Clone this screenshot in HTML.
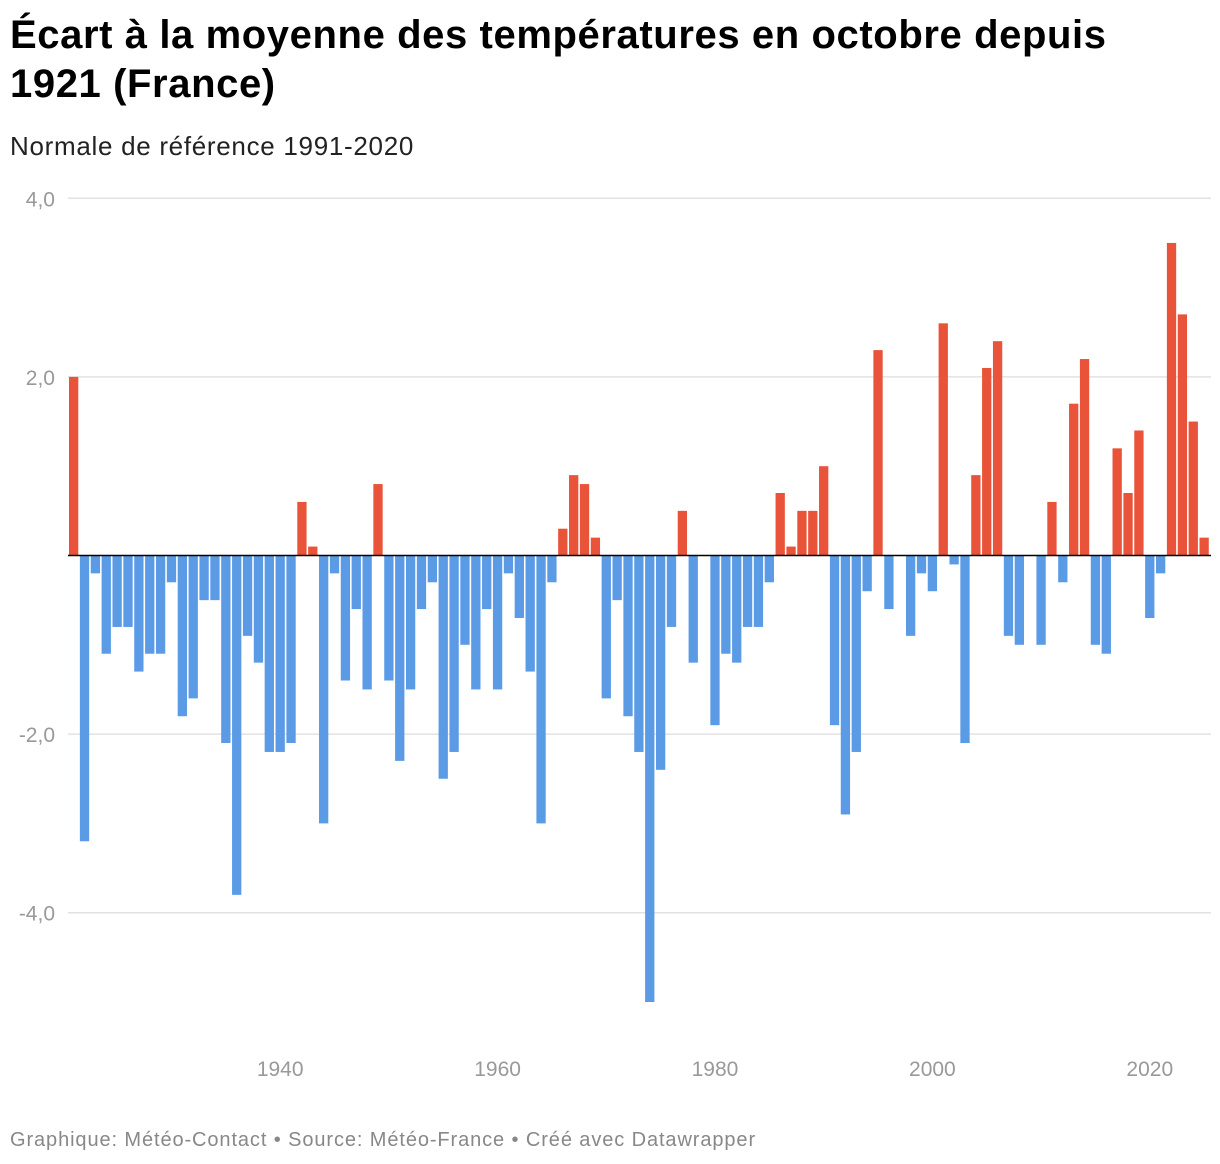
<!DOCTYPE html>
<html><head><meta charset="utf-8">
<style>
body{margin:0;background:#fff;font-family:"Liberation Sans",sans-serif;}
#wrap{position:relative;width:1220px;height:1164px;overflow:hidden;}
h1{position:absolute;left:10px;top:11px;margin:0;font-size:40px;line-height:49px;font-weight:bold;color:#000;width:1120px;letter-spacing:0.6px;}
.sub{position:absolute;left:10px;top:131px;font-size:26px;color:#222;letter-spacing:0.7px;}
.foot{position:absolute;left:10px;top:1129px;font-size:20px;color:#888;letter-spacing:0.9px;}
svg{position:absolute;left:0;top:0;}
</style></head><body>
<div id="wrap">
<h1>Écart à la moyenne des températures en octobre depuis 1921 (France)</h1>
<div class="sub">Normale de référence 1991-2020</div>
<svg id="chart" width="1220" height="1164"></svg>
<div class="foot">Graphique: Météo-Contact • Source: Météo-France • Créé avec Datawrapper</div>
</div>
<script>
const startYear = 1921;
const values = [2.0,-3.2,-0.2,-1.1,-0.8,-0.8,-1.3,-1.1,-1.1,-0.3,
-1.8,-1.6,-0.5,-0.5,-2.1,-3.8,-0.9,-1.2,-2.2,-2.2,
-2.1,0.6,0.1,-3.0,-0.2,-1.4,-0.6,-1.5,0.8,-1.4,
-2.3,-1.5,-0.6,-0.3,-2.5,-2.2,-1.0,-1.5,-0.6,-1.5,
-0.2,-0.7,-1.3,-3.0,-0.3,0.3,0.9,0.8,0.2,-1.6,
-0.5,-1.8,-2.2,-5.0,-2.4,-0.8,0.5,-1.2,0,-1.9,
-1.1,-1.2,-0.8,-0.8,-0.3,0.7,0.1,0.5,0.5,1.0,
-1.9,-2.9,-2.2,-0.4,2.3,-0.6,0,-0.9,-0.2,-0.4,
2.6,-0.1,-2.1,0.9,2.1,2.4,-0.9,-1.0,0,-1.0,
0.6,-0.3,1.7,2.2,-1.0,-1.1,1.2,0.7,1.4,-0.7,
-0.2,3.5,2.7,1.5,0.2];
const yTicks = [4,2,-2,-4];
const yTickLabels = ["4,0","2,0","-2,0","-4,0"];
const xTicks = [1940,1960,1980,2000,2020];

const svg = document.getElementById('chart');
const NS = 'http://www.w3.org/2000/svg';
const step = 10.87, x0 = 69, barW = 9.3;
function xScale(year){return x0 + (year-startYear)*step;}
function yScale(v){return 555.5 - v*89.3;}
function mk(tag, attrs){const e=document.createElementNS(NS,tag);for(const k in attrs)e.setAttribute(k,attrs[k]);svg.appendChild(e);return e;}

yTicks.forEach((t,i)=>{
  const g = mk('line',{x1:68,x2:1211,y1:yScale(t),y2:yScale(t),stroke:'#e2e2e2','stroke-width':1.5});
  
  
  const tx = mk('text',{x:55,y:yScale(t)+8,'text-anchor':'end','font-size':21,fill:'#999','font-family':'Liberation Sans, sans-serif'});
  tx.textContent = yTickLabels[i];
  
  
});
values.forEach((v,i)=>{
  const yr = startYear+i;
  if(v===0) return;
  const y = v>0 ? yScale(v) : yScale(0);
  const h = Math.abs(yScale(v)-yScale(0));
  const r = mk('rect',{x:xScale(yr),y:y,width:barW,height:h,fill:v>0?'#e9533a':'#5b9be6'});
  
  
});
const z = mk('line',{x1:68,x2:1211,y1:yScale(0),y2:yScale(0),stroke:'#000','stroke-width':1.5});


xTicks.forEach(t=>{
  const tx = mk('text',{x:xScale(t)+barW/2,y:1076,'text-anchor':'middle','font-size':21,fill:'#999','font-family':'Liberation Sans, sans-serif'});
  tx.textContent = t;
  
  
});
</script>
</body></html>
